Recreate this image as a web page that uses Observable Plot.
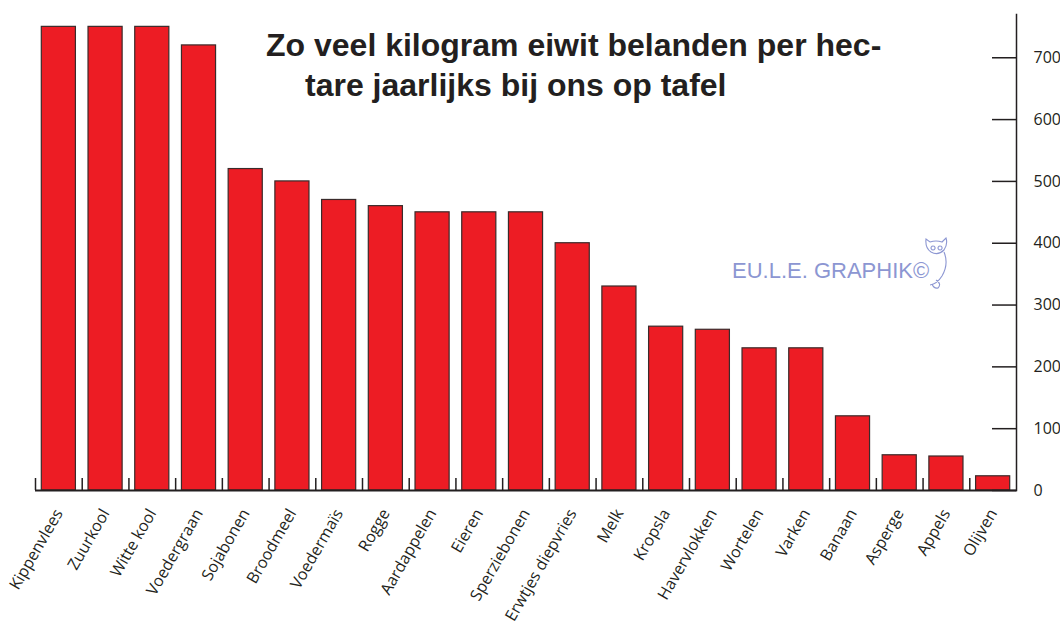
<!DOCTYPE html>
<html><head><meta charset="utf-8">
<script src="https://cdn.jsdelivr.net/npm/d3@7"></script>
<script src="https://cdn.jsdelivr.net/npm/@observablehq/plot@0.6"></script>
<style>
body{margin:0;background:#fff;}
#wrap{position:relative;width:1060px;height:628px;overflow:hidden;}
#overlay{position:absolute;left:0;top:0;pointer-events:none;}
</style></head><body><div id="wrap"></div>
<script>
const categories = ["Kippenvlees","Zuurkool","Witte kool","Voedergraan","Sojabonen","Broodmeel","Voedermaïs","Rogge","Aardappelen","Eieren","Sperziebonen","Erwtjes diepvries","Melk","Kropsla","Havervlokken","Wortelen","Varken","Banaan","Asperge","Appels","Olijven"];
const values = [750,750,750,720,520,500,470,460,450,450,450,400,330,265,260,230,230,120,57,55,23];
const yTicks = [0,100,200,300,400,500,600,700];
const titleLines = ["Zo veel kilogram eiwit belanden per hec-", "tare jaarlijks bij ons op tafel"];
const watermark = "EU.L.E. GRAPHIK©";

const data = categories.map((c, i) => ({c, v: values[i]}));
const W = 1060, H = 628, mL = 35, mR = 44, mT = 14, mB = 138;
const step = (W - mL - mR) / categories.length;
const ink = "#231f20";

const chart = Plot.plot({
  width: W, height: H,
  marginLeft: mL, marginRight: mR, marginTop: mT, marginBottom: mB,
  style: {fontFamily: '"Open Sans", sans-serif', fontSize: "16px", color: ink, background: "white"},
  x: {domain: categories, padding: 0, round: false, label: null},
  y: {domain: [0, 770], label: null},
  marks: [
    Plot.barY(data, {x: "c", y: "v", fill: "#ed1c24", stroke: "#3a2b2b", strokeWidth: 1.2, insetLeft: 6.3, insetRight: 6.3}),
    Plot.axisX({tickSize: -12, fill: "none", dx: -step / 2, stroke: ink, strokeWidth: 1.5, label: null}),
    Plot.axisX({tickSize: 0, tickPadding: 20, tickRotate: -60, fontSize: 16, label: null}),
    Plot.axisY({anchor: "right", ticks: yTicks, tickSize: -25, fill: "none", stroke: ink, strokeWidth: 1.5, label: null}),
    Plot.axisY({anchor: "right", ticks: yTicks, tickSize: 0, tickPadding: 17, fontSize: 16, label: null}),
    Plot.ruleY([0], {stroke: ink, strokeWidth: 2}),
    Plot.frame({anchor: "right", stroke: ink, strokeWidth: 1.5})
  ]
});
const wrap = document.getElementById("wrap");
wrap.appendChild(chart);

// overlay: title and watermark
const ns = "http://www.w3.org/2000/svg";
const ov = document.createElementNS(ns, "svg");
ov.setAttribute("id", "overlay");
ov.setAttribute("width", W); ov.setAttribute("height", H);
const titlePos = [[266, 56], [305, 96]];
titleLines.forEach((t, i) => {
  const el = document.createElementNS(ns, "text");
  el.setAttribute("x", titlePos[i][0]); el.setAttribute("y", titlePos[i][1]);
  el.setAttribute("font-family", '"Liberation Sans", Arial, sans-serif');
  el.setAttribute("font-weight", "bold");
  el.setAttribute("font-size", "32");
  el.setAttribute("fill", ink);
  el.textContent = t;
  ov.appendChild(el);
});
const wm = document.createElementNS(ns, "text");
wm.setAttribute("x", 732); wm.setAttribute("y", 278);
wm.setAttribute("font-family", '"Liberation Sans", Arial, sans-serif');
wm.setAttribute("font-size", "22");
wm.setAttribute("fill", "#8c96d2");
wm.textContent = watermark;
ov.appendChild(wm);
const owl = document.createElementNS(ns, "path");
owl.setAttribute("d", "M926,239 Q925,248 931,252 Q938,256 944,250 Q948,244 946,238 L942,242 Q936,240 930,242 Z M933,246 a2,2 0 1,0 0.1,0 M940,246 a2,2 0 1,0 0.1,0 M944,252 Q949,264 942,276 Q937,284 930,285 M936,280 Q942,284 938,288 M932,284 Q934,289 938,288");
owl.setAttribute("fill", "none");
owl.setAttribute("stroke", "#8c96d2");
owl.setAttribute("stroke-width", "1.1");
ov.appendChild(owl);
wrap.appendChild(ov);
</script>
</body></html>
